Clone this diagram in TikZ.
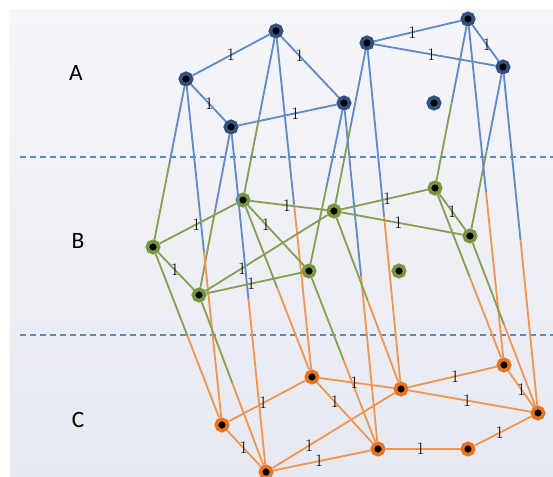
\documentclass[tikz,border=0pt]{standalone}
\usepackage{fontspec}
\newfontfamily\layerfont{Carlito}
\usepackage{tikz}
\usetikzlibrary{calc}

\definecolor{ringA}{RGB}{50,80,130}
\definecolor{ringB}{RGB}{120,150,62}
\definecolor{ringC}{RGB}{232,116,32}
\definecolor{edgeA}{RGB}{98,138,196}
\definecolor{edgeB}{RGB}{132,160,84}
\definecolor{edgeC}{RGB}{240,150,82}
\definecolor{sepcol}{RGB}{96,136,192}
\definecolor{bgtop}{RGB}{245,246,250}
\definecolor{bgbot}{RGB}{231,233,241}

\begin{document}
\begin{tikzpicture}[x=0.3mm, y=-0.3mm,
  vertexA/.style={circle, draw=ringA, fill=black, line width=1.1mm, minimum size=3.4mm, inner sep=0pt},
  vertexB/.style={vertexA, draw=ringB},
  vertexC/.style={vertexA, draw=ringC},
  lineA/.style={draw=edgeA, line width=0.55mm},
  lineB/.style={draw=edgeB, line width=0.55mm},
  lineC/.style={draw=edgeC, line width=0.55mm},
  weight/.style={font=\fontsize{15}{15}\selectfont, inner sep=0pt},
  layer/.style={font=\layerfont\fontsize{20}{20}\selectfont},
  sep/.style={draw=sepcol, dash pattern=on 1.8mm off 1.2mm, line width=0.35mm}]

  \useasboundingbox (0,0) rectangle (553,477);
  \shade[top color=bgtop, bottom color=bgbot] (10,10) rectangle (553,477);

  % layer separators and names
  \draw[sep] (20,157) -- (553,157);
  \draw[sep] (20,335) -- (553,335);
  \node[layer] (labA) at (76,73) {A};
  \node[layer] (labB) at (78,241) {B};
  \node[layer] (labC) at (78,420) {C};

  % layer A
  \node[vertexA] (a1) at (186,79) {};
  \node[vertexA] (a2) at (276,31) {};
  \node[vertexA] (a3) at (231,127) {};
  \node[vertexA] (a4) at (344,103) {};
  \node[vertexA] (a5) at (367,43) {};
  \node[vertexA] (a6) at (468,19) {};
  \node[vertexA] (a7) at (503,67) {};
  \node[vertexA] (a8) at (434,103) {};

  % layer B
  \node[vertexB] (b1) at (153,247) {};
  \node[vertexB] (b2) at (243,200) {};
  \node[vertexB] (b3) at (199,295) {};
  \node[vertexB] (b4) at (309,271) {};
  \node[vertexB] (b5) at (334,211) {};
  \node[vertexB] (b6) at (435,188) {};
  \node[vertexB] (b7) at (470,236) {};
  \node[vertexB] (b8) at (399,271) {};

  % layer C
  \node[vertexC] (c1) at (222,425) {};
  \node[vertexC] (c2) at (312,377) {};
  \node[vertexC] (c3) at (266,472) {};
  \node[vertexC] (c4) at (401,389) {};
  \node[vertexC] (c5) at (504,365) {};
  \node[vertexC] (c6) at (538,413) {};
  \node[vertexC] (c7) at (378,449) {};
  \node[vertexC] (c8) at (468,449) {};

  % links between layers, half in each colour
  \draw[lineA] (a1) -- ($(a1)!.5!(b1)$); \draw[lineB] ($(a1)!.5!(b1)$) -- (b1);
  \draw[lineA] (a2) -- ($(a2)!.5!(b2)$); \draw[lineB] ($(a2)!.5!(b2)$) -- (b2);
  \draw[lineA] (a3) -- ($(a3)!.5!(b3)$); \draw[lineB] ($(a3)!.5!(b3)$) -- (b3);
  \draw[lineA] (a4) -- ($(a4)!.5!(b4)$); \draw[lineB] ($(a4)!.5!(b4)$) -- (b4);
  \draw[lineA] (a5) -- ($(a5)!.5!(b5)$); \draw[lineB] ($(a5)!.5!(b5)$) -- (b5);
  \draw[lineA] (a6) -- ($(a6)!.5!(b6)$); \draw[lineB] ($(a6)!.5!(b6)$) -- (b6);
  \draw[lineA] (a7) -- ($(a7)!.5!(b7)$); \draw[lineB] ($(a7)!.5!(b7)$) -- (b7);

  \draw[lineA] (a1) -- ($(a1)!.5!(c1)$); \draw[lineC] ($(a1)!.5!(c1)$) -- (c1);
  \draw[lineA] (a2) -- ($(a2)!.5!(c2)$); \draw[lineC] ($(a2)!.5!(c2)$) -- (c2);
  \draw[lineA] (a3) -- ($(a3)!.5!(c3)$); \draw[lineC] ($(a3)!.5!(c3)$) -- (c3);
  \draw[lineA] (a4) -- ($(a4)!.5!(c7)$); \draw[lineC] ($(a4)!.5!(c7)$) -- (c7);
  \draw[lineA] (a5) -- ($(a5)!.5!(c4)$); \draw[lineC] ($(a5)!.5!(c4)$) -- (c4);
  \draw[lineA] (a6) -- ($(a6)!.5!(c5)$); \draw[lineC] ($(a6)!.5!(c5)$) -- (c5);
  \draw[lineA] (a7) -- ($(a7)!.5!(c6)$); \draw[lineC] ($(a7)!.5!(c6)$) -- (c6);

  \draw[lineB] (b1) -- ($(b1)!.5!(c1)$); \draw[lineC] ($(b1)!.5!(c1)$) -- (c1);
  \draw[lineB] (b2) -- ($(b2)!.5!(c2)$); \draw[lineC] ($(b2)!.5!(c2)$) -- (c2);
  \draw[lineB] (b3) -- ($(b3)!.5!(c3)$); \draw[lineC] ($(b3)!.5!(c3)$) -- (c3);
  \draw[lineB] (b4) -- ($(b4)!.5!(c7)$); \draw[lineC] ($(b4)!.5!(c7)$) -- (c7);
  \draw[lineB] (b5) -- ($(b5)!.5!(c4)$); \draw[lineC] ($(b5)!.5!(c4)$) -- (c4);
  \draw[lineB] (b6) -- ($(b6)!.5!(c5)$); \draw[lineC] ($(b6)!.5!(c5)$) -- (c5);
  \draw[lineB] (b7) -- ($(b7)!.5!(c6)$); \draw[lineC] ($(b7)!.5!(c6)$) -- (c6);

  % edges inside layer A
  \draw[lineA] (a1) -- node[weight, pos=.5]{1} (a2);
  \draw[lineA] (a2) -- node[weight, pos=.32]{1} (a4);
  \draw[lineA] (a1) -- node[weight, pos=.52]{1} (a3);
  \draw[lineA] (a3) -- node[weight, pos=.58]{1} (a4);
  \draw[lineA] (a5) -- node[weight, pos=.44]{1} (a6);
  \draw[lineA] (a6) -- node[weight, pos=.55]{1} (a7);
  \draw[lineA] (a5) -- node[weight, pos=.47]{1} (a7);

  % edges inside layer B
  \draw[lineB] (b1) -- node[weight, pos=.48]{1} (b2);
  \draw[lineB] (b1) -- node[weight, pos=.47]{1} (b3);
  \draw[lineB] (b2) -- node[weight, pos=.48]{1} (b5);
  \draw[lineB] (b2) -- node[weight, pos=.32]{1} (b4);
  \draw[lineB] (b3) -- node[weight, pos=.30]{1} (b5);
  \draw[lineB] (b3) -- node[weight, pos=.47]{1} (b4);
  \draw[lineB] (b5) -- node[weight, pos=.53]{1} (b6);
  \draw[lineB] (b5) -- node[weight, pos=.47]{1} (b7);
  \draw[lineB] (b6) -- node[weight, pos=.49]{1} (b7);

  % edges inside layer C
  \draw[lineC] (c1) -- node[weight, pos=.45]{1} (c2);
  \draw[lineC] (c1) -- node[weight, pos=.49]{1} (c3);
  \draw[lineC] (c2) -- node[weight, pos=.47]{1} (c4);
  \draw[lineC] (c2) -- node[weight, pos=.32]{1} (c7);
  \draw[lineC] (c3) -- node[weight, pos=.30]{1} (c4);
  \draw[lineC] (c3) -- node[weight, pos=.47]{1} (c7);
  \draw[lineC] (c4) -- node[weight, pos=.53]{1} (c5);
  \draw[lineC] (c4) -- node[weight, pos=.48]{1} (c6);
  \draw[lineC] (c5) -- node[weight, pos=.52]{1} (c6);
  \draw[lineC] (c7) -- node[weight, pos=.47]{1} (c8);
  \draw[lineC] (c8) -- node[weight, pos=.44]{1} (c6);
\end{tikzpicture}
\end{document}
